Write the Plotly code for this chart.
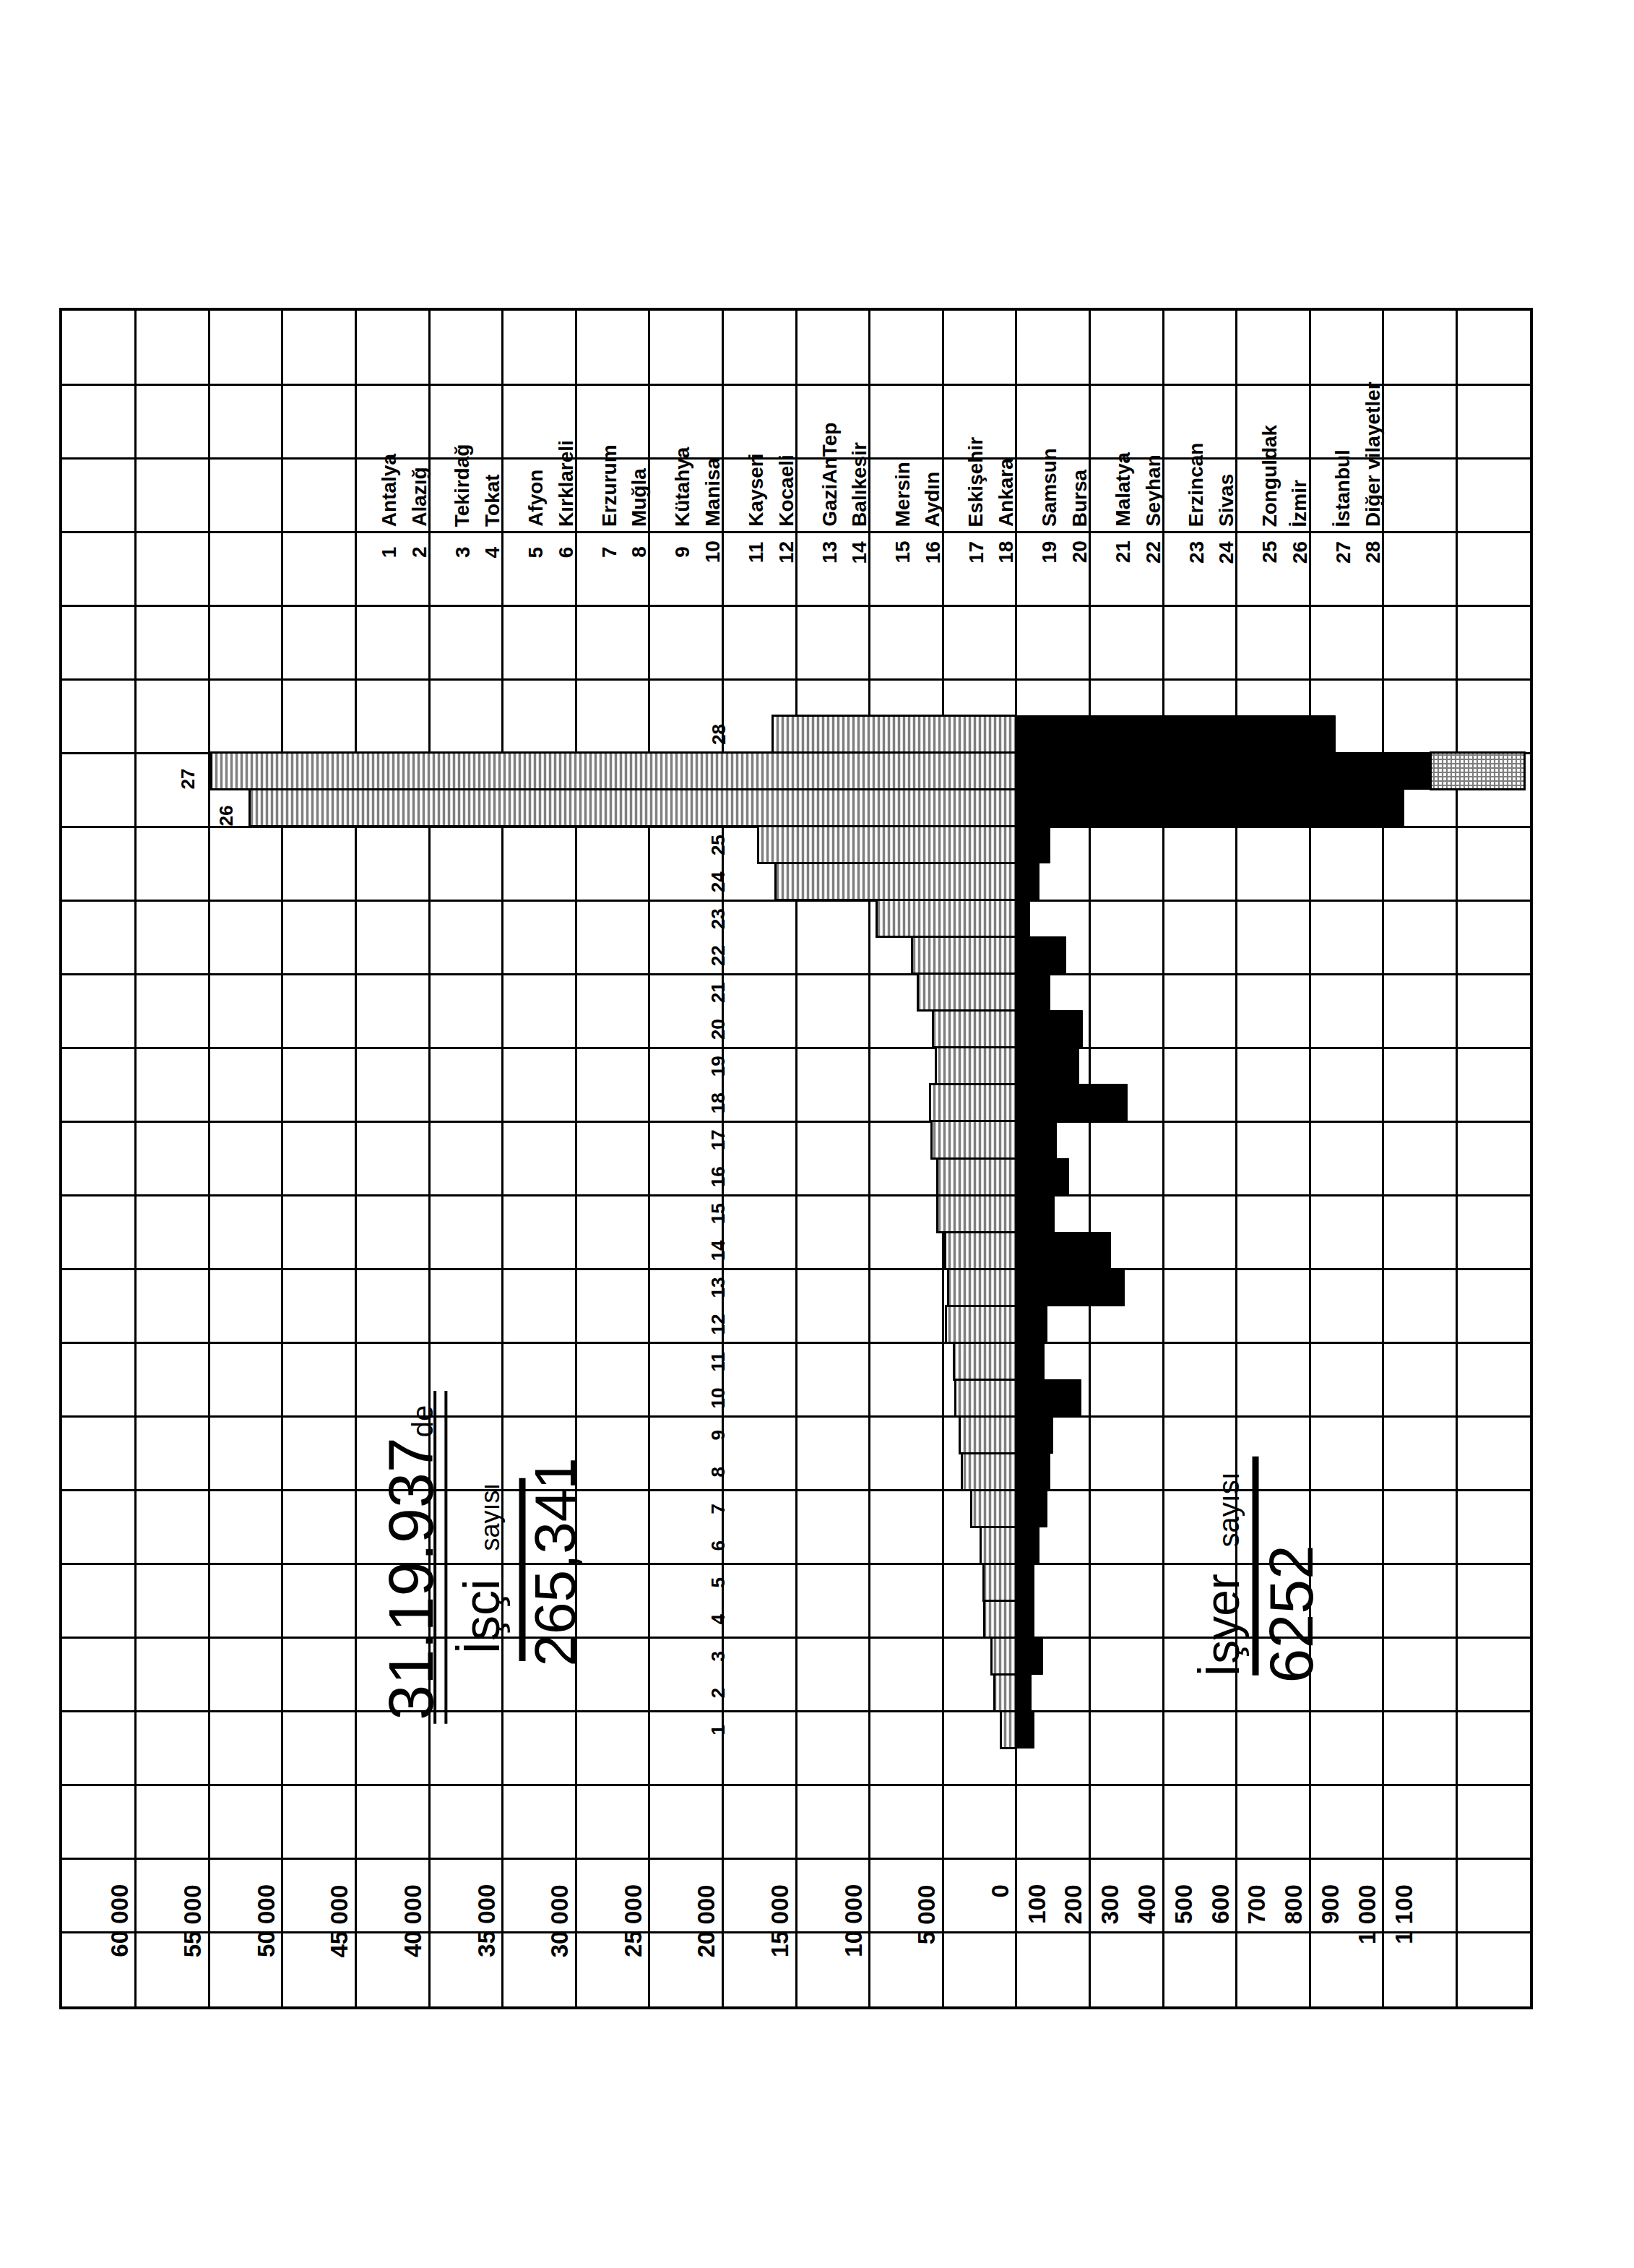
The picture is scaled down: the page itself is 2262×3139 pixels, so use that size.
import plotly.graph_objects as go

# ---------------- data ----------------
KATEGORI_NO = list(range(1, 29))
VILAYETLER = ["Antalya", "Alazığ", "Tekirdağ", "Tokat", "Afyon", "Kırklareli",
              "Erzurum", "Muğla", "Kütahya", "Manisa", "Kayseri", "Kocaeli",
              "GaziAnTep", "Balıkesir", "Mersin", "Aydın", "Eskişehir", "Ankara",
              "Samsun", "Bursa", "Malatya", "Seyhan", "Erzincan", "Sivas",
              "Zonguldak", "İzmir", "İstanbul", "Diğer vilayetler"]
# işçi sayısı (workers) per province
ISCI = [1040, 1480, 1680, 2170, 2220, 2420, 3060, 3700, 3850, 4140,
        4240, 4780, 4640, 4830, 5330, 5330, 5770, 5870, 5470, 5670,
        6700, 7100, 9470, 16400, 17560, 52220, 54830, 16570]
# işyeri sayısı (workplaces) per province
ISYERI = [49, 41, 73, 49, 49, 63, 85, 93, 100, 178,
          77, 85, 296, 258, 105, 144, 110, 304, 172, 182,
          93, 136, 38, 63, 93, 1057, 1387, 870]
ISYERI_KESIK = 1130          # beyond this the drawn bar is dotted (off the scale)

ISCI_TICKS = [60000, 55000, 50000, 45000, 40000, 35000, 30000, 25000,
              20000, 15000, 10000, 5000, 0]
ISCI_TICK_TEXT = ["60 000", "55 000", "50 000", "45 000", "40 000", "35 000",
                  "30 000", "25 000", "20 000", "15 000", "10 000", "5 000", "0"]
ISYERI_TICKS = [100, 200, 300, 400, 500, 600, 700, 800, 900, 1000, 1100]
ISYERI_TICK_TEXT = ["100", "200", "300", "400", "500", "600", "700", "800",
                    "900", "1 000", "1 100"]

ISCI_CELL = 5000     # workers per grid cell
ISYERI_CELL = 200    # workplaces per grid cell

TARIH = "31.19.937"
TOPLAM_ISCI = "265,341"
TOPLAM_ISYERI = "6252"

FONT = "Liberation Sans"

fig = go.Figure()

# worker bars (to the left)
fig.add_trace(go.Bar(
    y=KATEGORI_NO, x=[-v / ISCI_CELL for v in ISCI], orientation="h", width=1,
    marker=dict(color="white", line=dict(color="black", width=3),
                pattern=dict(shape="|", size=7, solidity=0.5, fgcolor="black",
                             bgcolor="white", fillmode="overlay")),
    showlegend=False, hoverinfo="skip"))

# workplace bars (to the right)
fig.add_trace(go.Bar(
    y=KATEGORI_NO, x=[min(v, ISYERI_KESIK) / ISYERI_CELL for v in ISYERI],
    orientation="h", width=1,
    marker=dict(color="black", line=dict(color="black", width=1)),
    showlegend=False, hoverinfo="skip"))

kes_y = [k for k, v in zip(KATEGORI_NO, ISYERI) if v > ISYERI_KESIK]
kes_v = [v for v in ISYERI if v > ISYERI_KESIK]
fig.add_trace(go.Bar(
    y=kes_y, base=[ISYERI_KESIK / ISYERI_CELL] * len(kes_y),
    x=[(v - ISYERI_KESIK) / ISYERI_CELL for v in kes_v], orientation="h", width=1,
    marker=dict(color="white", line=dict(color="black", width=3),
                pattern=dict(shape="+", size=6, solidity=0.6, fgcolor="black",
                             bgcolor="white", fillmode="overlay")),
    showlegend=False, hoverinfo="skip"))

ann = []

def rtext(x, y, text, size, xanchor="center", yanchor="middle", bold=True, xshift=0, yshift=0):
    ann.append(dict(x=x, y=y, xref="x", yref="y", text=text, showarrow=False,
                    textangle=-90, xanchor=xanchor, yanchor=yanchor,
                    xshift=xshift, yshift=yshift,
                    font=dict(family=FONT, size=size, color="black",
                              weight="bold" if bold else "normal")))

# value tick labels
for v, t in zip(ISCI_TICKS, ISCI_TICK_TEXT):
    rtext(-v / ISCI_CELL, -3.15, t, 33, xanchor="right", yanchor="top", xshift=-2)
for v, t in zip(ISYERI_TICKS, ISYERI_TICK_TEXT):
    rtext(v / ISYERI_CELL, -3.15, t, 33, xanchor="right", yanchor="top", xshift=-2)

# category numbers
for k, v in zip(KATEGORI_NO, ISCI):
    if v / ISCI_CELL > 4.2:
        rtext(-v / ISCI_CELL - 0.15, k - 0.2, str(k), 26, xanchor="right")
    else:
        rtext(-4.06, k, str(k), 26)

# province list
for i, (k, name) in enumerate(zip(KATEGORI_NO, VILAYETLER)):
    col = -9 + i // 2
    xpos = col + (0.45 if k % 2 == 1 else 0.86)
    rtext(xpos, 32.95, str(k), 28)
    rtext(xpos, 33.6, name, 28, yanchor="bottom")

# handwritten summary texts
rtext(-8.25, 1.22, TARIH + "<span style='font-size:40px'>de</span>", 88,
      yanchor="bottom", bold=False)
rtext(-7.28, 3.0, "İşçi&nbsp;&nbsp;<span style='font-size:36px'>sayısı</span>", 70,
      yanchor="bottom", bold=False)
rtext(-6.28, 5.56, TOPLAM_ISCI, 80, bold=False)
rtext(2.81, 2.40, "İşyer&nbsp;&nbsp;<span style='font-size:40px'>sayısı</span>", 66,
      yanchor="bottom", bold=False)
rtext(3.74, 4.15, TOPLAM_ISYERI, 86, bold=False)

shapes = [
    dict(type="line", xref="x", yref="y", x0=-6.73, x1=-6.73, y0=2.87, y1=7.83,
         line=dict(color="black", width=9)),
    dict(type="line", xref="x", yref="y", x0=3.26, x1=3.26, y0=2.48, y1=8.42,
         line=dict(color="black", width=9)),
    dict(type="line", xref="x", yref="y", x0=-7.92, x1=-7.92, y0=1.17, y1=10.2,
         line=dict(color="black", width=4)),
    dict(type="line", xref="x", yref="y", x0=-7.77, x1=-7.77, y0=1.17, y1=10.2,
         line=dict(color="black", width=4)),
]

axis_common = dict(showgrid=True, gridcolor="black", gridwidth=3,
                   zeroline=False, showticklabels=False, ticks="",
                   showline=True, mirror=True, linecolor="black", linewidth=4)

fig.update_layout(
    width=2262, height=3139, autosize=False,
    margin=dict(l=86, r=144, t=430, b=362),
    paper_bgcolor="white", plot_bgcolor="white",
    barmode="overlay", bargap=0,
    xaxis=dict(range=[-13, 7], tick0=0, dtick=1, **axis_common),
    yaxis=dict(range=[-6.5, 39.5], tick0=1.5, dtick=2, **axis_common),
    annotations=ann, shapes=shapes,
)

fig.write_html("out.html")
